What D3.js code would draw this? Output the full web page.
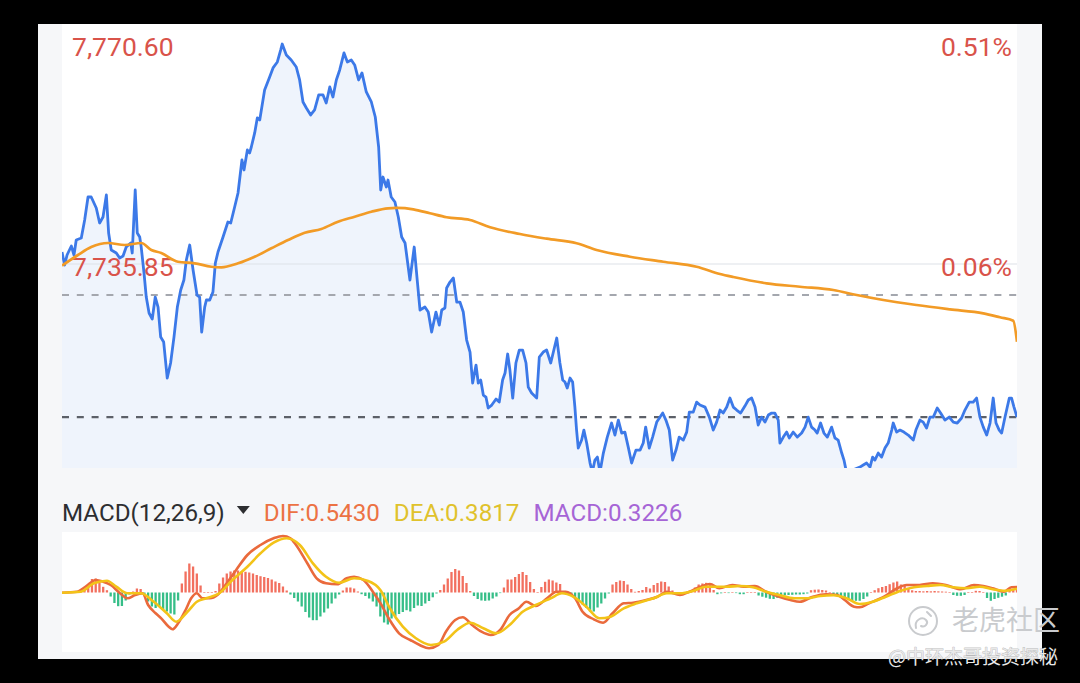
<!DOCTYPE html>
<html>
<head>
<meta charset="utf-8">
<script src="https://cdn.jsdelivr.net/npm/d3@7/dist/d3.min.js"></script>
<style>
  body { margin: 0; background: #000; }
  svg { display: block; font-family: Roboto, "Noto Sans", sans-serif; }
</style>
</head>
<body>
<script>
// intraday session, minutes since open (0..510) and index level
var pricePoints = [[0,7737.74],[1.4,7735.69],[2.7,7737.27],[5.0,7738.69],[6.4,7737.27],[7.6,7739.64],[10.3,7739.96],[12.1,7742.80],[13.9,7746.43],[15.6,7746.43],[18.3,7744.70],[20.1,7742.33],[21.9,7743.27],[23.7,7746.75],[24.9,7740.75],[26.3,7738.06],[29.0,7737.59],[30.8,7736.80],[32.6,7737.11],[34.3,7738.53],[36.7,7739.17],[37.5,7737.59],[39.1,7747.54],[40.2,7740.75],[41.5,7740.11],[42.3,7738.53],[43.8,7734.43],[45.0,7730.63],[46.5,7728.11],[48.2,7727.16],[49.8,7730.63],[51.3,7729.05],[52.7,7724.31],[54.3,7723.52],[56.2,7717.84],[58.0,7720.21],[59.8,7724.31],[61.6,7729.05],[63.4,7731.74],[65.1,7733.32],[66.4,7736.48],[68.2,7738.85],[70.0,7734.90],[72.1,7730.95],[73.5,7730.63],[74.6,7725.10],[76.2,7729.05],[77.1,7730.16],[78.9,7730.16],[80.6,7731.42],[81.9,7736.01],[83.3,7737.74],[86.0,7740.11],[88.6,7742.48],[90.1,7742.33],[92.2,7744.85],[94.0,7747.07],[96.1,7752.28],[97.2,7750.70],[99.0,7753.86],[100.2,7753.39],[101.1,7754.33],[102.9,7756.55],[104.3,7758.92],[105.6,7758.60],[108.2,7763.34],[110.9,7765.39],[112.7,7766.82],[115.0,7767.76],[116.8,7769.66],[117.6,7770.60],[119.8,7768.87],[122.4,7768.08],[125.1,7766.97],[126.9,7764.92],[128.7,7761.44],[130.5,7760.50],[132.8,7759.39],[134.9,7760.18],[137.1,7762.55],[139.4,7762.55],[141.1,7761.29],[143.0,7763.81],[144.7,7762.23],[146.5,7764.92],[148.3,7766.50],[150.6,7769.19],[152.4,7767.76],[154.5,7768.08],[156.3,7767.29],[158.4,7764.92],[160.2,7766.03],[162.5,7763.02],[165.2,7761.44],[167.3,7759.07],[169.1,7754.33],[170.2,7747.54],[171.4,7749.59],[173.2,7748.01],[174.1,7749.12],[175.8,7746.43],[177.8,7745.64],[179.6,7743.27],[181.4,7740.11],[183.2,7739.17],[185.8,7733.32],[188.1,7738.53],[189.7,7733.32],[191.2,7728.58],[193.8,7729.05],[195.6,7728.26],[197.4,7725.10],[199.7,7728.26],[201.5,7726.21],[202.8,7728.58],[204.5,7728.90],[205.4,7732.06],[207.2,7733.00],[209.0,7733.64],[210.8,7729.84],[212.5,7729.84],[214.3,7728.26],[216.1,7723.84],[217.9,7721.94],[219.3,7717.05],[221.1,7719.89],[222.3,7717.05],[223.6,7717.52],[225.0,7715.15],[226.4,7714.83],[227.6,7713.10],[229.5,7713.57],[231.8,7714.52],[233.5,7714.04],[235.3,7717.52],[236.6,7718.63],[238.0,7721.63],[239.2,7719.10],[240.7,7714.68],[242.4,7720.21],[244.2,7722.26],[246.0,7722.26],[247.8,7720.21],[249.0,7716.41],[250.8,7715.47],[253.5,7714.68],[254.9,7721.15],[257.0,7721.94],[258.8,7722.26],[261.0,7720.21],[264.2,7724.16],[265.9,7720.21],[267.4,7717.52],[268.6,7717.20],[269.8,7716.26],[271.3,7717.84],[272.7,7717.20],[273.9,7713.25],[274.8,7709.62],[275.7,7706.78],[277.5,7708.04],[278.7,7709.62],[280.2,7707.57],[282.0,7704.41],[283.2,7702.98],[284.6,7704.88],[285.9,7705.35],[287.3,7702.98],[289.1,7705.99],[291.2,7708.51],[293.5,7710.73],[295.3,7708.83],[297.1,7711.20],[298.9,7709.15],[300.6,7709.30],[302.4,7706.93],[304.2,7704.41],[306.5,7706.46],[308.7,7706.46],[310.4,7707.57],[311.7,7710.09],[313.6,7706.78],[315.4,7708.51],[317.6,7710.88],[320.8,7712.31],[322.5,7711.20],[324.3,7709.62],[326.1,7704.88],[327.9,7706.46],[329.6,7708.51],[331.8,7708.04],[333.6,7709.30],[335.0,7712.46],[337.1,7712.46],[338.9,7714.04],[340.7,7713.57],[343.4,7713.25],[345.7,7711.67],[347.8,7709.62],[349.6,7710.88],[351.4,7712.78],[353.1,7712.31],[355.0,7713.25],[356.7,7714.68],[358.5,7713.25],[360.3,7712.78],[362.4,7712.31],[364.7,7713.41],[366.5,7714.36],[368.3,7714.68],[370.1,7713.25],[371.8,7710.41],[373.6,7711.67],[375.4,7710.88],[377.2,7711.99],[379.0,7712.31],[380.7,7712.31],[382.5,7711.20],[383.4,7707.57],[385.2,7708.51],[387.0,7709.30],[388.4,7708.36],[390.5,7709.30],[392.7,7708.51],[395.0,7709.15],[396.8,7710.09],[398.5,7711.67],[400.3,7710.09],[402.1,7709.62],[403.3,7709.15],[405.1,7710.73],[406.9,7709.15],[408.7,7708.51],[411.0,7710.09],[412.8,7708.36],[414.5,7708.04],[416.4,7705.99],[417.6,7704.88],[418.7,7703.30],[421.7,7702.98],[423.5,7703.46],[426.1,7703.77],[427.9,7704.09],[429.7,7704.41],[431.5,7703.77],[432.9,7705.35],[434.1,7704.88],[435.9,7705.99],[437.7,7705.35],[439.5,7706.78],[441.2,7707.57],[443.1,7709.62],[443.9,7710.73],[445.7,7709.30],[447.5,7709.62],[449.6,7709.30],[451.9,7708.83],[454.6,7708.04],[456.0,7709.62],[458.2,7711.20],[459.9,7710.88],[461.7,7709.94],[463.5,7711.67],[465.3,7711.67],[467.4,7713.10],[469.2,7712.31],[471.5,7711.20],[473.8,7711.67],[476.0,7710.88],[478.1,7710.73],[480.4,7711.52],[482.2,7712.78],[484.5,7714.04],[486.6,7714.04],[488.4,7714.68],[490.2,7711.67],[492.0,7710.09],[493.8,7708.83],[495.6,7710.73],[497.3,7714.68],[498.8,7710.73],[500.5,7709.62],[501.8,7709.15],[503.6,7711.67],[505.9,7714.68],[507.1,7714.68],[508.4,7713.25],[510.0,7711.67]];

// average price line
var avgPoints = [[0,7735.60],[8.5,7737.27],[15.6,7738.53],[24.6,7739.17],[33.5,7738.85],[42.3,7739.17],[47.7,7738.06],[53.0,7737.59],[61.9,7736.21],[70.9,7735.96],[79.7,7735.42],[85.1,7735.33],[94.0,7735.96],[102.9,7737.00],[111.8,7738.33],[120.7,7739.64],[129.6,7740.79],[138.5,7741.38],[147.4,7742.53],[156.3,7743.32],[165.2,7744.11],[174.1,7744.65],[178.7,7744.70],[187.6,7744.49],[196.5,7743.86],[205.4,7743.23],[217.9,7742.80],[228.6,7741.65],[244.6,7740.59],[258.8,7739.85],[274.8,7739.12],[285.5,7738.06],[303.3,7737.00],[321.1,7736.21],[338.9,7735.42],[351.4,7734.27],[358.5,7733.79],[376.3,7732.80],[394.1,7732.26],[411.9,7731.74],[424.4,7730.95],[438.6,7730.16],[456.4,7729.37],[474.2,7728.69],[492.0,7728.06],[500.9,7727.43],[508.0,7726.89],[510.0,7723.57]];

var difPoints = [[0,-0.02],[8,0.08],[13,0.65],[18,1.25],[22,1.08],[26,0.75],[31,-0.08],[35,-0.58],[39,-0.25],[43,-0.08],[46,-1.25],[50,-2.08],[53,-2.58],[57,-3.42],[59,-3.68],[62,-3.08],[66,-1.75],[69,-0.58],[72,-0.08],[75,-0.58],[79,-0.58],[83,-0.25],[88,0.92],[93,2.25],[99,3.75],[106,4.75],[113,5.42],[118,5.65],[122,5.42],[125,4.75],[131,2.92],[136,1.42],[141,0.92],[147,0.82],[152,1.42],[156,1.58],[161,1.25],[166,0.08],[170,-1.05],[175,-2.75],[180,-4.08],[186,-4.75],[191,-5.25],[196,-5.58],[201,-5.25],[205,-3.92],[210,-2.75],[214,-2.48],[219,-3.25],[224,-3.92],[229,-4.25],[234,-3.75],[239,-2.25],[244,-1.58],[248,-0.92],[253,-1.35],[259,-0.58],[264,0.08],[269,0.08],[274,-0.58],[278,-1.92],[284,-2.68],[289,-3.02],[294,-2.08],[300,-1.08],[305,-1.02],[312,-0.75],[318,-0.42],[323,0.08],[330,-0.25],[335,0.08],[341,0.58],[346,0.85],[351,0.42],[358,0.75],[364,0.58],[370,0.65],[376,0.08],[383,-0.42],[389,-0.75],[394,-0.92],[401,-0.42],[408,-0.18],[414,-0.25],[418,-0.75],[423,-1.42],[426,-1.48],[431,-1.08],[439,-0.42],[446,0.42],[451,0.75],[458,0.75],[465,0.92],[472,0.75],[480,0.32],[487,0.75],[492,0.65],[497,0.42],[503,0.08],[507,0.52],[510,0.543]];

var deaPoints = [[0,-0.02],[10,0.08],[17,0.92],[24,1.18],[29,0.58],[35,-0.08],[42,-0.08],[49,-0.92],[56,-2.08],[61,-2.92],[67,-1.92],[72,-0.92],[77,-0.58],[84,-0.08],[91,1.25],[99,2.58],[106,3.92],[113,4.98],[120,5.42],[127,4.75],[134,2.92],[141,1.58],[148,0.98],[156,1.42],[163,1.18],[170,0.25],[175,-1.55],[182,-3.42],[189,-4.58],[197,-5.25],[204,-4.92],[211,-3.75],[218,-3.02],[225,-3.58],[232,-4.08],[239,-3.25],[246,-1.92],[253,-1.25],[261,-0.58],[267,-0.08],[273,-0.42],[280,-1.42],[287,-2.58],[293,-2.42],[300,-1.58],[307,-1.08],[316,-0.58],[323,-0.08],[330,-0.08],[337,0.15],[344,0.58],[355,0.58],[362,0.65],[369,0.52],[376,0.08],[383,-0.25],[391,-0.58],[398,-0.58],[405,-0.35],[412,-0.28],[419,-0.58],[426,-1.15],[433,-0.92],[440,-0.42],[448,0.18],[455,0.52],[462,0.65],[469,0.75],[476,0.52],[483,0.42],[490,0.58],[497,0.32],[504,0.18],[510,0.3817]];

// MACD histogram, one bar every 2 minutes
var histStep = 2;
var histValues = [
  0.03,0.03,0.05,0.05,0.1,0.2,0.3,0.8,1.35,1.4,1.0,0.57,0.23,-0.4,-1.05,-1.37,
  -1.35,-0.8,-0.2,0.1,0.4,0.35,-0.35,-0.9,-1.4,-1.55,-1.45,-1.65,-1.9,-2.1,-2.2,-0.8,
  0.9,2.1,2.9,2.6,1.9,0.7,0.05,0.05,0.05,0.15,0.9,1.5,1.9,2.1,2.2,2.2,
  2.1,2.07,2.0,1.9,1.75,1.63,1.55,1.45,1.3,1.1,0.95,0.6,0.2,-0.2,-0.55,-0.9,
  -1.4,-1.95,-2.5,-2.77,-2.77,-2.4,-2.0,-1.6,-1.1,-0.6,-0.2,0.2,0.5,0.5,0.4,0.1,
  -0.17,-0.35,-0.6,-0.9,-1.4,-2.4,-3.0,-3.2,-2.6,-2.35,-2.15,-1.95,-1.77,-1.9,-1.55,-1.3,
  -1.35,-1.1,-0.85,-0.48,-0.1,0.25,0.8,1.4,2.05,2.35,2.2,1.65,0.95,0.15,-0.35,-0.65,
  -0.8,-0.83,-0.8,-0.6,-0.4,-0.05,0.5,1.3,1.3,1.55,1.85,2.05,1.75,1.05,0.35,0.05,
  0.55,1.07,1.3,1.2,1.0,0.85,0.07,-0.15,-0.35,-0.55,-0.8,-1.2,-1.55,-1.9,-1.9,-1.5,
  -1.1,-0.6,-0.1,0.8,1.05,1.2,1.15,0.8,0.35,0.07,0.15,0.25,0.55,0.4,0.75,0.95,
  1.1,1.05,0.6,0.2,0.03,0.03,0.03,0.05,0.25,0.5,0.8,0.9,0.97,0.83,0.25,-0.17,
  -0.08,0.05,-0.05,0.05,-0.05,-0.17,-0.17,0.03,0.03,0.03,-0.3,-0.42,-0.52,-0.63,-0.65,-0.53,
  -0.33,-0.28,-0.25,-0.23,-0.2,-0.2,-0.17,-0.1,0.23,0.28,0.3,0.25,0.2,0.03,-0.17,-0.25,
  -0.35,-0.6,-0.72,-0.82,-0.83,-0.83,-0.65,-0.4,0.05,0.23,0.43,0.55,0.65,0.83,1.0,1.1,
  0.8,0.68,0.45,0.22,0.15,0.15,0.12,0.15,0.12,0.15,0.12,0.1,0.08,0.02,-0.25,-0.33,
  -0.33,-0.25,0.02,0.05,0.17,0.15,0.02,-0.55,-0.83,-0.65,-0.53,-0.42,-0.3,0.15,0.25,0.3226
];

var prevClose = 7730.95;
var priceTicks = [7770.60, 7735.85];
var pctTicks = ["0.51%", "0.06%"];
var macdTitle = "MACD(12,26,9)";
var macdLegend = [["DIF", 0.5430, "#ec7244"], ["DEA", 0.3817, "#e0c22c"], ["MACD", 0.3226, "#a665d6"]];

var svg = d3.select("body").append("svg").attr("width", 1080).attr("height", 683);

// panel
svg.append("rect").attr("x", 38).attr("y", 24).attr("width", 1004).attr("height", 635).attr("fill", "#f6f7f9");
svg.append("rect").attr("x", 62).attr("y", 24).attr("width", 955).attr("height", 444).attr("fill", "#fff");
svg.append("rect").attr("x", 62).attr("y", 532).attr("width", 955).attr("height", 120).attr("fill", "#fff");

var defs = svg.append("defs");
defs.append("clipPath").attr("id", "clip_price").append("rect")
   .attr("x", 62).attr("y", 24).attr("width", 955).attr("height", 444);
defs.append("clipPath").attr("id", "clip_macd").append("rect")
   .attr("x", 62).attr("y", 532).attr("width", 955).attr("height", 120);

var x = d3.scaleLinear().domain([0, 510]).range([62, 1017]);
var y = d3.scaleLinear().domain([priceTicks[1], priceTicks[0]]).range([264, 44]);
var ym = d3.scaleLinear().domain([-6, 6]).range([652.5, 532.5]);

var pg = svg.append("g").attr("clip-path", "url(#clip_price)");

var area = d3.area()
   .x(function(d) { return x(d[0]); })
   .y0(468)
   .y1(function(d) { return y(d[1]); });
pg.append("path").datum(pricePoints).attr("d", area).attr("fill", "#eff4fc");

// grid line at lower tick
pg.append("line")
   .attr("x1", 62).attr("x2", 1017)
   .attr("y1", y(priceTicks[1])).attr("y2", y(priceTicks[1]))
   .attr("stroke", "#dde1e7").attr("stroke-width", 1.2);

// previous close and last price
pg.append("line")
   .attr("x1", 62).attr("x2", 1017)
   .attr("y1", y(prevClose)).attr("y2", y(prevClose))
   .attr("stroke", "#a4a7ae").attr("stroke-width", 2).attr("stroke-dasharray", "7,7.8");
var lastPrice = pricePoints[pricePoints.length - 1][1];
pg.append("line")
   .attr("x1", 62).attr("x2", 1017)
   .attr("y1", y(lastPrice)).attr("y2", y(lastPrice))
   .attr("stroke", "#5c6068").attr("stroke-width", 2.2).attr("stroke-dasharray", "7,7.8");

// labels
var fmt = d3.format(",.2f");
svg.selectAll("text.plabel").data(priceTicks).enter().append("text")
   .attr("class", "plabel")
   .attr("x", 72).attr("y", function(d) { return y(d) + 11.5; })
   .attr("font-size", 26.5).attr("fill", "#d9534a")
   .text(function(d) { return fmt(d); });
svg.selectAll("text.pct").data(pctTicks).enter().append("text")
   .attr("class", "pct")
   .attr("x", 1012).attr("text-anchor", "end")
   .attr("y", function(d, i) { return y(priceTicks[i]) + 11.5; })
   .attr("font-size", 26.5).attr("fill", "#d9534a")
   .text(function(d) { return d; });

var line = d3.line()
   .x(function(d) { return x(d[0]); })
   .y(function(d) { return y(d[1]); });
var pg2 = svg.append("g").attr("clip-path", "url(#clip_price)");
pg2.append("path").datum(pricePoints).attr("d", line)
   .attr("fill", "none").attr("stroke", "#3c79e8").attr("stroke-width", 2.8)
   .attr("stroke-linejoin", "round");
pg2.append("path").datum(avgPoints).attr("d", line.curve(d3.curveMonotoneX))
   .attr("fill", "none").attr("stroke", "#f29b26").attr("stroke-width", 2.7);

// MACD legend
var lg = svg.append("g").attr("font-size", 24.2);
var t0 = lg.append("text").attr("x", 62).attr("y", 521).attr("fill", "#2d2e31").text(macdTitle);
var cx = 62 + t0.node().getComputedTextLength();
lg.append("path")
   .attr("d", "M" + (cx + 12) + ",506 L" + (cx + 25) + ",506 L" + (cx + 18.5) + ",514 Z")
   .attr("fill", "#2d2e31");
cx += 39;
macdLegend.forEach(function(d) {
   var t = lg.append("text").attr("x", cx).attr("y", 521).attr("fill", d[2])
      .text(d[0] + ":" + d[1].toFixed(4));
   cx += t.node().getComputedTextLength() + 14;
});

// MACD pane
var mg = svg.append("g").attr("clip-path", "url(#clip_macd)");
mg.selectAll("rect.bar").data(histValues).enter().append("rect")
   .attr("class", "bar")
   .attr("x", function(d, i) { return x(i * histStep) - 1.15; })
   .attr("width", 2.3)
   .attr("y", function(d) { return Math.min(ym(d), ym(0)); })
   .attr("height", function(d) { return Math.max(0.6, Math.abs(ym(d) - ym(0))); })
   .attr("fill", function(d) { return d >= 0 ? "#f2705f" : "#36be88"; });

var mline = d3.line()
   .x(function(d) { return x(d[0]); })
   .y(function(d) { return ym(d[1]); })
   .curve(d3.curveMonotoneX);
mg.append("path").datum(difPoints).attr("d", mline)
   .attr("fill", "none").attr("stroke", "#ea6a3c").attr("stroke-width", 2.6);
mg.append("path").datum(deaPoints).attr("d", mline)
   .attr("fill", "none").attr("stroke", "#f3c318").attr("stroke-width", 2.6);

// watermark
var wm = svg.append("g");
wm.append("circle").attr("cx", 923).attr("cy", 621).attr("r", 14)
   .attr("fill", "none").attr("stroke", "#c9cbce").attr("stroke-width", 2);
wm.append("path").attr("d", "M916,628 C914,620 922,616 926,620 C929,623 925,628 921,626 M927,612 L931,616")
   .attr("fill", "none").attr("stroke", "#c9cbce").attr("stroke-width", 2).attr("stroke-linecap", "round");
wm.append("text").attr("x", 952).attr("y", 630)
   .attr("font-family", "'Noto Sans CJK SC', sans-serif").attr("font-size", 27)
   .attr("fill", "#c9cbce").text("老虎社区");
wm.append("text").attr("x", 1058).attr("y", 664).attr("text-anchor", "end")
   .attr("font-family", "'Noto Sans CJK SC', sans-serif").attr("font-size", 19)
   .attr("fill", "#e9e9e9").attr("stroke", "rgba(0,0,0,0.25)").attr("stroke-width", 1)
   .attr("paint-order", "stroke")
   .text("@中环杰哥投资探秘");
</script>
</body>
</html>
